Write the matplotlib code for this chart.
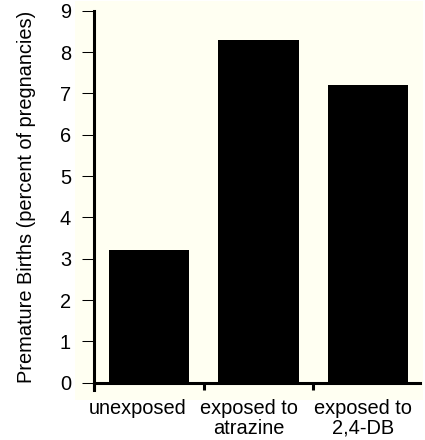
import matplotlib
matplotlib.use("Agg")
import matplotlib.pyplot as plt
import matplotlib.transforms as mtransforms
import numpy as np

categories = ["unexposed", "exposed to\natrazine", "exposed to\n2,4-DB"]
values = [3.2, 8.3, 7.2]
yticks = [0, 1, 2, 3, 4, 5, 6, 7, 8, 9]
ylabel = "Premature Births (percent of pregnancies)"

plt.rcParams['font.family'] = ['Liberation Sans', 'DejaVu Sans']
FS = 14.4

W, H = 425, 440
fig = plt.figure(figsize=(W / 100, H / 100), dpi=100)
fig.patch.set_facecolor('white')

bg = fig.add_axes([75 / W, 1 - 400 / H, (423 - 75) / W, (400 - 1) / H], zorder=0)
bg.set_facecolor('#fffff2')
bg.set_xticks([])
bg.set_yticks([])
for s in bg.spines.values():
    s.set_visible(False)

left, right = 94 / W, 423 / W
bottom, top = 1 - 382.7 / H, 1 - 10.7 / H
ax = fig.add_axes([left, bottom, right - left, top - bottom], zorder=1)
ax.set_facecolor('none')

x = np.arange(len(categories))
ax.bar(x, values, width=0.73, color='black', zorder=2)

ax.set_xlim(-0.5, 2.5)
ax.set_ylim(0, 9)
ax.set_yticks(yticks)
ax.tick_params(axis='y', length=9, width=0.75, direction='out', labelsize=FS, pad=7.5)

ax.set_xticks([-0.5, 0.5, 1.5])
ax.set_xticklabels([])
ax.tick_params(axis='x', which='major', length=5, width=2.2, direction='out')

# category labels below the axis, with small horizontal offsets (pixels)
offsets_px = [-11, -10, -5]
base = ax.get_xaxis_transform()
for xi, lab, dx in zip(x, categories, offsets_px):
    tr = base + mtransforms.ScaledTranslation(dx / 100, -16 / 100, fig.dpi_scale_trans)
    ax.text(xi, 0, lab, transform=tr, ha='center', va='top', fontsize=FS,
            linespacing=1.07, clip_on=False)

ax.spines['top'].set_visible(False)
ax.spines['right'].set_visible(False)
ax.spines['left'].set_linewidth(2.2)
ax.spines['bottom'].set_linewidth(2.2)
ax.spines['left'].set_bounds(-0.17, 9)
ax.spines['bottom'].set_bounds(-0.5, 2.47)

fig.text(27 / W, (bottom + top) / 2, ylabel, rotation=90, ha='center', va='center',
         fontsize=FS)

fig.savefig("out.png", dpi=100)
